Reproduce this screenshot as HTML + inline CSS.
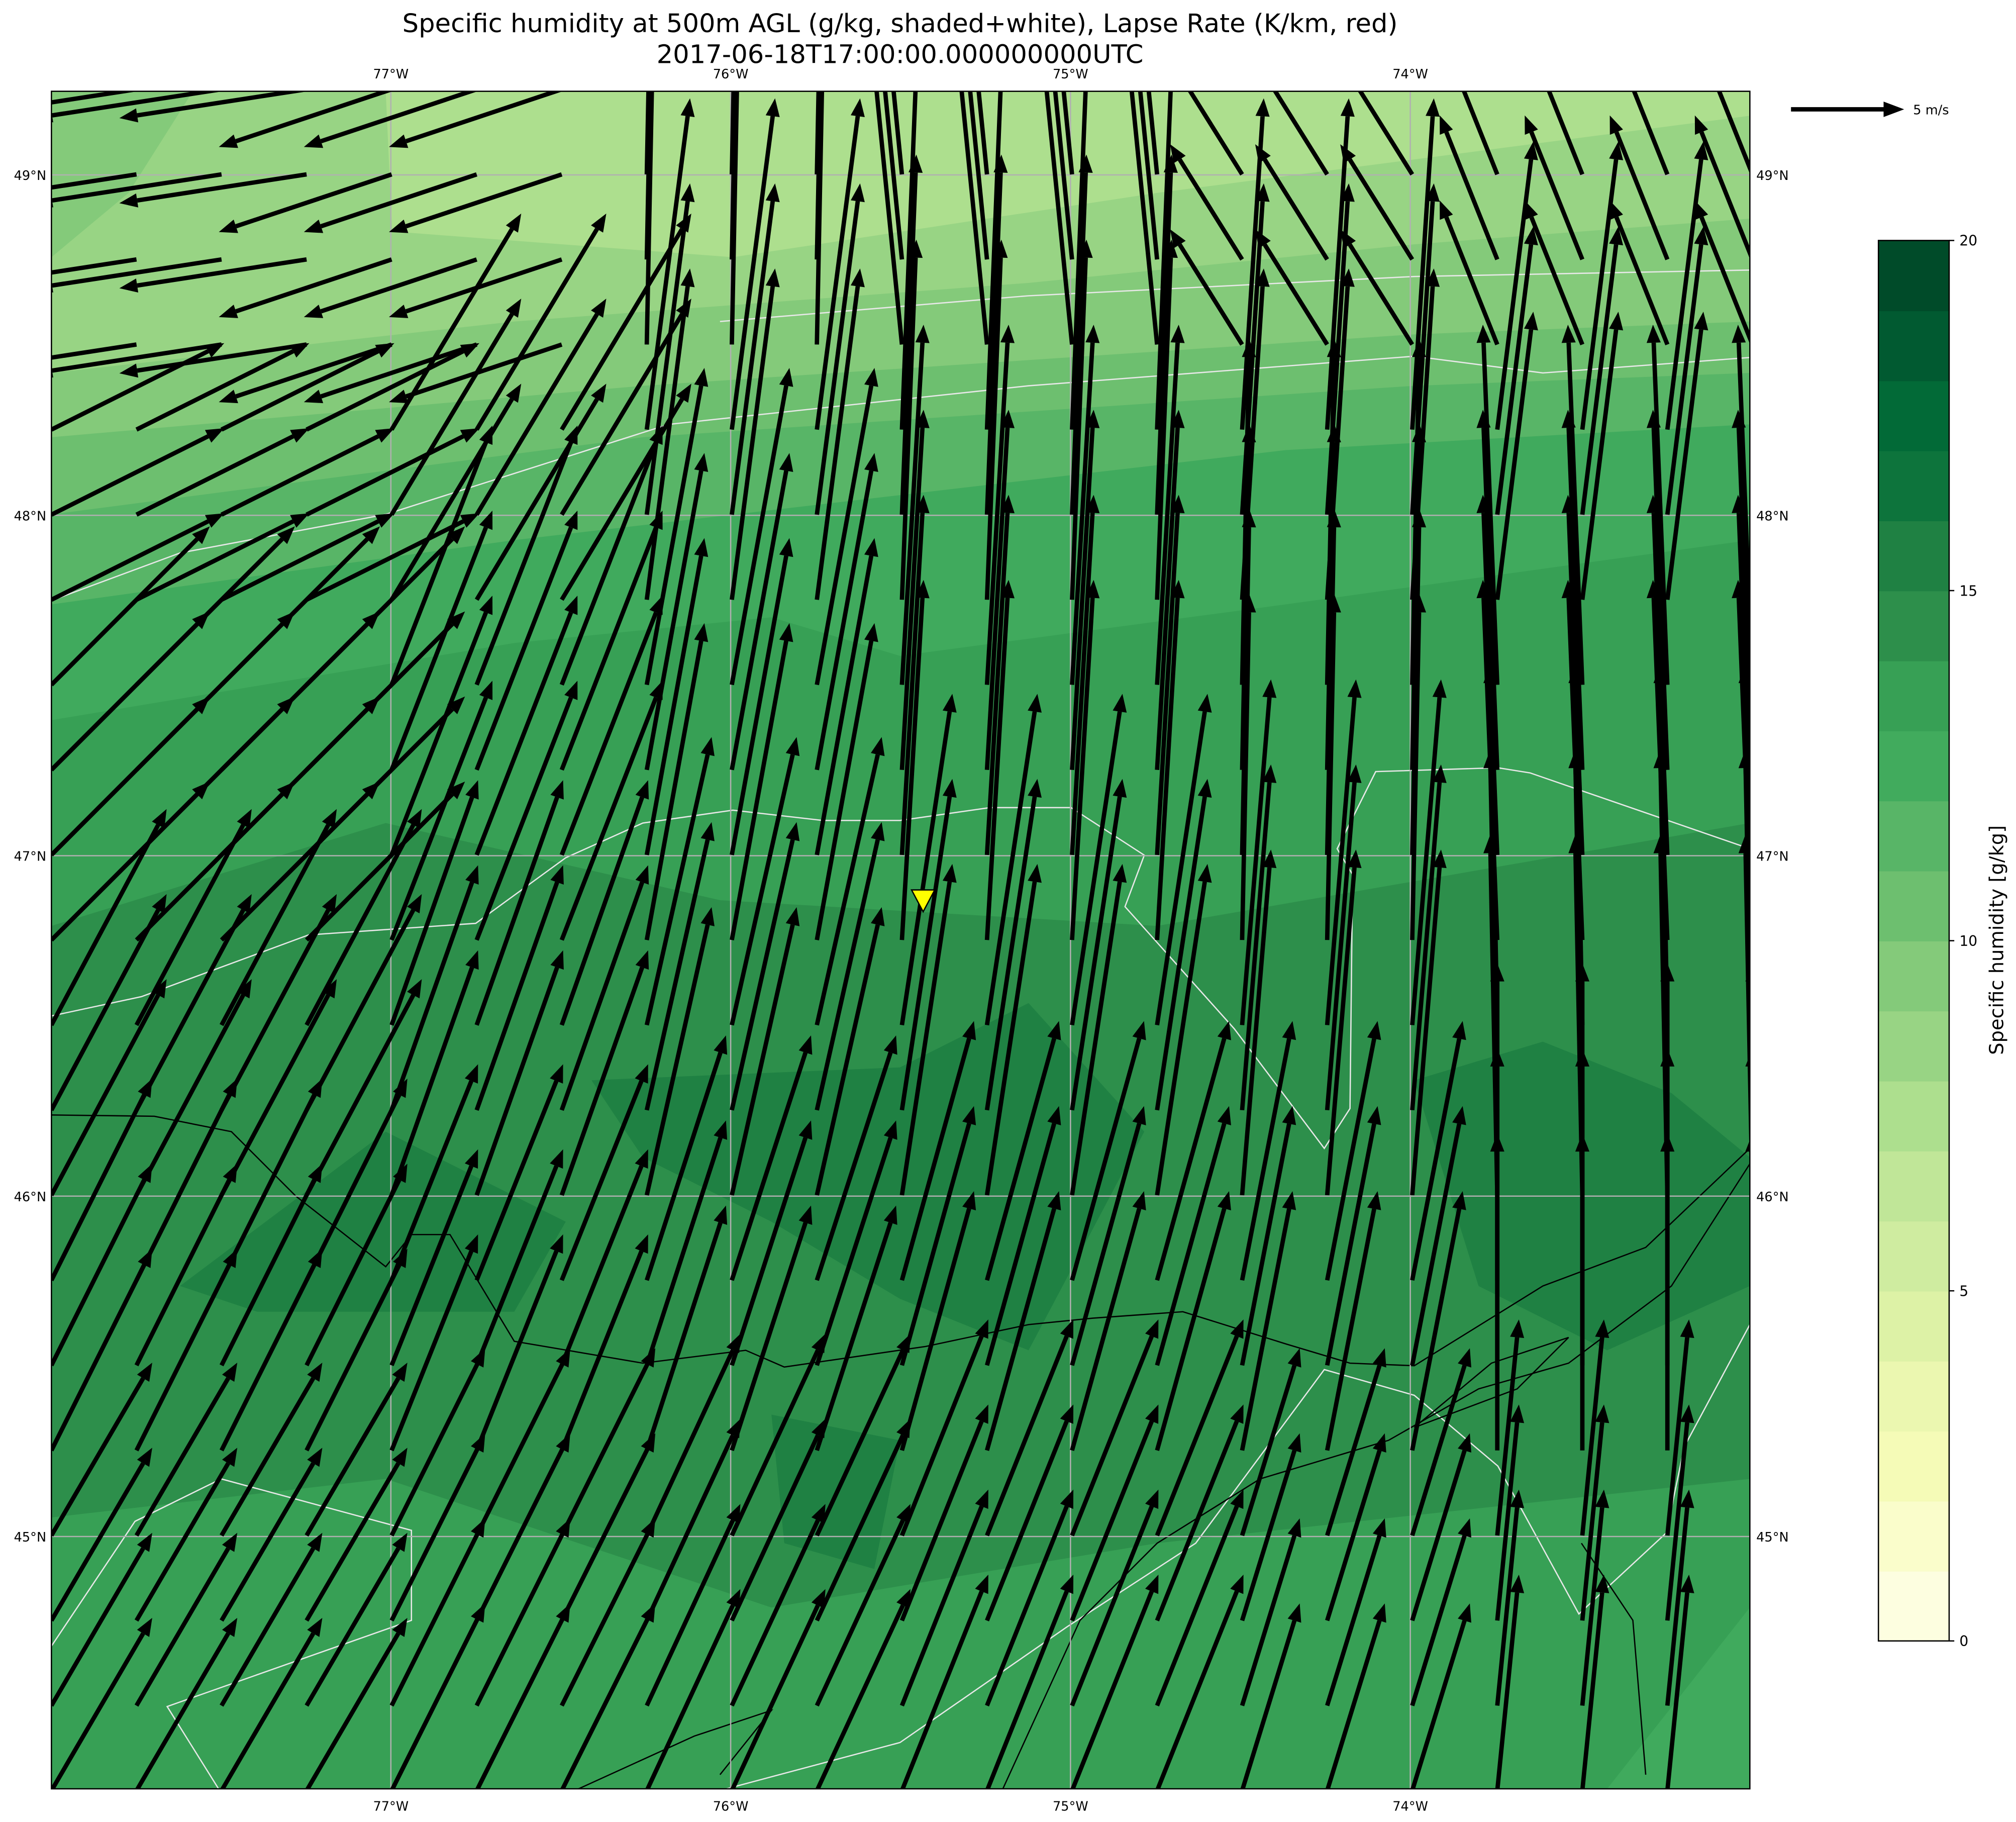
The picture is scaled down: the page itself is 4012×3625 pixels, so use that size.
<!DOCTYPE html>
<html><head><meta charset="utf-8"><style>
html,body{margin:0;padding:0;background:#fff;}
svg{display:block;font-family:"DejaVu Sans","Liberation Sans",sans-serif;}
</style></head><body>
<svg id="fig" width="4012" height="3625" viewBox="0 0 1568 1416.8" preserveAspectRatio="none" xmlns="http://www.w3.org/2000/svg">
<text x="700" y="25" font-size="20" text-anchor="middle">Specific humidity at 500m AGL (g/kg, shaded+white), Lapse Rate (K/km, red)</text>
<text x="700" y="49" font-size="20" text-anchor="middle">2017-06-18T17:00:00.000000000UTC</text>
<defs><clipPath id="mapclip"><rect x="40" y="71" width="1321" height="1320"/></clipPath></defs>
<g id="map" clip-path="url(#mapclip)">
 <g id="shading"></g>
 <g id="borders"></g>
 <g id="grid"></g>
 <g id="arrows"></g>
 <polygon points="709,692 727,692 718,709" fill="#ffff00" stroke="#000" stroke-width="1"/>
</g>
<rect x="40" y="71" width="1321" height="1320" fill="none" stroke="#000" stroke-width="1"/>
<g id="labels"></g>
<g>
 <line x1="1393" y1="85" x2="1468" y2="85" stroke="#000" stroke-width="3.4"/>
 <polygon points="1481,85 1465,79 1465,91" fill="#000"/>
 <text x="1488" y="89" font-size="10">5 m/s</text>
</g>
<g id="cbar"></g>
<text transform="translate(1558,731) rotate(-90)" font-size="15" text-anchor="middle">Specific humidity [g/kg]</text>
</svg>
<script>
const NS='http://www.w3.org/2000/svg';
const cbColors=['#fdfee0','#fafdcb','#f5fbb7','#ebf7b0','#ddf2a6','#cfeca0','#c0e698','#addf8e','#98d484','#84ca7a','#6dbf6f','#58b567','#41ab5d','#37a055','#2d8f4b','#1f8143','#0d743c','#026a37','#015a31','#004b29'];
const cbTicks=[0,5,10,15,20];
const lonTicks=['77°W','76°W','75°W','74°W'];
const lonVals=[-77,-76,-75,-74];
const latTicks=['49°N','48°N','47°N','46°N','45°N'];
const latVals=[49,48,47,46,45];
// wind vectors per region (rows north->south, cols west->east), u east, v north
const windU=[[-13,-12,0.5,-2,-5,-4],[12,9,3,1,1.5,2.5],[11,7,4,1.5,0.5,-1],[8,6,4.5,3.5,2,-0.5],[7,6,5.5,5,3.5,0],[7,6.5,6.5,6,4,1.5]];
const windV=[[-2,-4,25,20,8,10],[6,15,23,25,23,20],[11,18,22,25,24,25],[15,17,20,23,24,25],[14,15,17,18,18,22],[12,13,14,15,13,15]];
const x0=40,x1=1361,y0=71,y1=1391;
const lonX=l=>304+(l+77)*264.3;
const latY=l=>136+(49-l)*264.7;
function el(tag,attrs,parent){const e=document.createElementNS(NS,tag);for(const k in attrs)e.setAttribute(k,attrs[k]);parent.appendChild(e);return e;}
const sh=document.getElementById('shading');
const bands=[
 ['#37a055','40,71 1361,71 1361,1391 40,1391'],
 ['#2d8f4b','40,720 300,640 560,700 900,720 1361,640 1361,1150 900,1200 600,1250 300,1150 40,1180'],
 ['#1f8143','140,1000 300,880 440,950 400,1020 200,1020'],
 ['#1f8143','460,840 700,830 800,780 890,880 800,1050 700,1010 600,950 500,900'],
 ['#1f8143','1100,840 1200,810 1300,850 1361,900 1361,1000 1250,1050 1150,1000'],
 ['#1f8143','600,1100 700,1120 680,1220 610,1200'],
 ['#40aa5d','1250,1391 1361,1250 1361,1391'],
 ['#40aa5d','40,71 1361,71 1361,420 1000,470 700,510 600,480 400,500 40,560'],
 ['#58b567','40,71 1361,71 1361,330 1000,350 400,420 40,470'],
 ['#6dbf6f','40,71 1361,71 1361,290 1100,300 500,340 40,400'],
 ['#84ca7a','40,71 1361,71 1361,250 1100,260 500,300 40,340'],
 ['#98d484','40,71 1361,71 1361,170 1100,190 800,220 400,250 40,290'],
 ['#addf8e','300,71 1361,71 1361,90 900,150 570,200 305,180'],
 ['#84ca7a','40,71 150,71 100,150 40,200']
];
bands.forEach(b=>{const p=el('polygon',{points:b[1],fill:b[0]},sh);});
const bd=document.getElementById('borders');
const white=['40,467 140,430 300,400 520,330 800,300 1100,277 1200,290 1361,278','560,250 800,230 1100,215 1361,210',
'40,790 110,775 240,727 370,718 440,667 500,640 570,630 640,638 700,638 770,628 833,628 890,665 875,705 960,800 1030,893 1050,862 1052,680 1040,660 1070,600 1165,597 1190,601 1361,660',
'40,1280 105,1183 172,1150 320,1190 320,1260 130,1327 170,1391',
'565,1391 700,1355 830,1265 930,1200 1030,1065 1100,1085 1165,1140 1228,1255 1296,1192 1310,1125 1361,1030'];
white.forEach(p=>{const l=el('polyline',{points:p,fill:'none',stroke:'#e8e8e8','stroke-width':1},bd);});
const black=['40,867 120,868 180,880 230,930 300,985 320,960 350,960 400,1043 500,1060 580,1050 610,1063 720,1047 800,1030 850,1025 920,1020 1000,1045 1050,1060 1100,1062 1200,1000 1280,970 1361,893',
'780,1391 840,1260 900,1200 980,1150 1080,1120 1150,1080 1220,1060 1300,1000 1361,905','1230,1200 1270,1260 1280,1380','1100,1110 1160,1060 1220,1040 1180,1080 1100,1110','450,1391 540,1350 600,1330 560,1380'];
black.forEach(p=>{const l=el('polyline',{points:p,fill:'none',stroke:'#000','stroke-width':1},bd);});
const gr=document.getElementById('grid'),lb=document.getElementById('labels');
lonVals.forEach((v,i)=>{const x=lonX(v);
 const g=el('line',{x1:x,y1:y0,x2:x,y2:y1,stroke:'#b0b0b0','stroke-width':1},gr);
 const t=el('text',{x:x,y:61,'font-size':10,'text-anchor':'middle'},lb);t.textContent=lonTicks[i];
 const b=el('text',{x:x,y:1408,'font-size':10,'text-anchor':'middle'},lb);b.textContent=lonTicks[i];});
latVals.forEach((v,i)=>{const y=latY(v);
 const g=el('line',{x1:x0,y1:y,x2:x1,y2:y,stroke:'#b0b0b0','stroke-width':1},gr);
 const t=el('text',{x:36,y:y+4,'font-size':10,'text-anchor':'end'},lb);t.textContent=latTicks[i];
 const b=el('text',{x:1366,y:y+4,'font-size':10},lb);b.textContent=latTicks[i];});
const ar=document.getElementById('arrows');const sc=11.2;const step=66.15;
for(let r=-3;r<=21;r++){for(let c=0;c<=20;c++){
 const x=x0+c*step;
 const yy=1194-r*step+2*step;
 if(yy<y0-5||yy>y1+5)continue;
 const ri=Math.max(0,Math.min(5,Math.floor((yy-y0)/220))),ci=Math.min(5,Math.floor((x-x0)/220));
 const dx=windU[ri][ci]*sc,dy=-windV[ri][ci]*sc;
 const L=Math.hypot(dx,dy),ux=dx/L,uy=dy/L;
 const ex=x+dx,ey=yy+dy,bx=ex-ux*14,by=ey-uy*14;
 const g=el('g',{},ar);
 
 
 el('line',{x1:x,y1:yy,x2:bx,y2:by,stroke:'#000','stroke-width':3.4},g);
 el('polygon',{points:`${ex},${ey} ${bx-uy*5.5},${by+ux*5.5} ${bx+uy*5.5},${by-ux*5.5}`,fill:'#000'},g);
}}
const cb=document.getElementById('cbar');const cy0=187,cy1=1276,cx=1461,cw=55;
const cyv=v=>cy1-(v/20)*(cy1-cy0);
cbColors.forEach((col,i)=>{const r=el('rect',{x:cx,y:cyv(i+1),width:cw,height:cyv(i)-cyv(i+1)+0.5,fill:col},cb);});
el('rect',{x:cx,y:cy0,width:cw,height:cy1-cy0,fill:'none',stroke:'#000','stroke-width':1},cb);
cbTicks.forEach(v=>{const y=cyv(v);el('line',{x1:cx+cw,y1:y,x2:cx+cw+4,y2:y,stroke:'#000'},cb);
 const t=el('text',{x:cx+cw+8,y:y+4,'font-size':11},cb);t.textContent=v;});
</script>
</body></html>
